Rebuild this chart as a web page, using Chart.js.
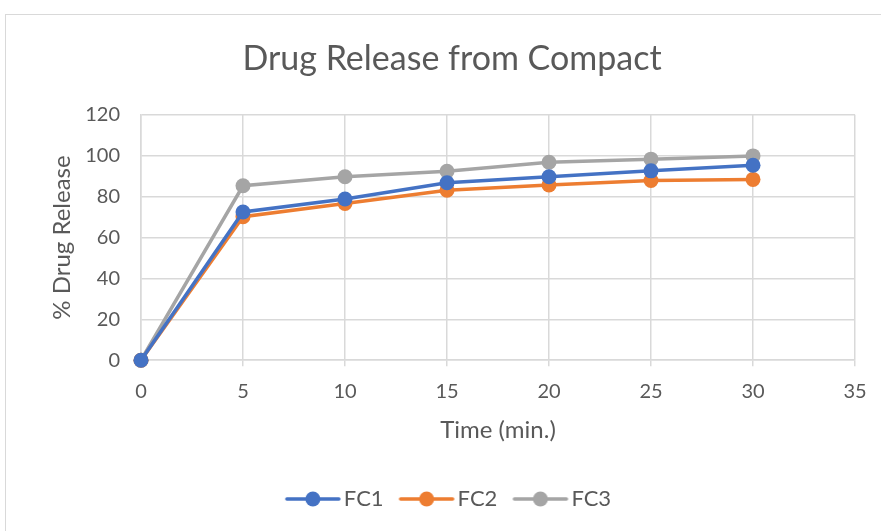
<!DOCTYPE html>
<html>
<head>
<meta charset="utf-8">
<script src="https://cdn.jsdelivr.net/npm/chart.js@4.4.1/dist/chart.umd.min.js"></script>
<style>
  html, body { margin: 0; padding: 0; background: #fff; }
  #wrap { position: relative; width: 881px; height: 531px; overflow: hidden; }
  #frame { position: absolute; left: 5px; top: 14px; width: 900px; height: 560px; border: 1px solid #d9d9d9; box-sizing: border-box; }
  #c { position: absolute; left: 0; top: 0; }
</style>
</head>
<body>
<div id="wrap">
  <div id="frame"></div>
  <canvas id="c" width="881" height="531"></canvas>
</div>
<script>
// Cumulative drug release (%) sampled every 5 minutes
const timeMin = [0, 5, 10, 15, 20, 25, 30];
const fc1 = [0, 72.5, 78.8, 86.8, 89.7, 92.6, 95.3];
const fc2 = [0, 70.2, 76.6, 83.1, 85.7, 87.9, 88.4];
const fc3 = [0, 85.3, 89.7, 92.4, 96.8, 98.3, 99.9];
const seriesNames = ['FC1', 'FC2', 'FC3'];
const seriesColors = ['#4472C4', '#ED7D31', '#A5A5A5'];

const FONT = 'Lato, "Liberation Sans", sans-serif';
const TEXT = '#595959';

// legend swatch: short line with a dot in the middle
function swatch(color) {
  const cv = document.createElement('canvas');
  cv.width = 60; cv.height = 18;
  const g = cv.getContext('2d');
  g.strokeStyle = color; g.lineWidth = 3.5; g.lineCap = 'round';
  g.beginPath(); g.moveTo(4, 9); g.lineTo(56, 9); g.stroke();
  g.fillStyle = color;
  g.beginPath(); g.arc(30, 9, 7.5, 0, Math.PI * 2); g.fill();
  return cv;
}

const datasets = [fc1, fc2, fc3].map((vals, i) => ({
  label: seriesNames[i],
  data: timeMin.map((t, k) => ({ x: t, y: vals[k] })),
  borderColor: seriesColors[i],
  backgroundColor: seriesColors[i],
  borderWidth: 3.5,
  pointRadius: 7.5,
  pointHoverRadius: 7.5,
  pointBorderWidth: 0,
  showLine: true,
  tension: 0,
  clip: false,
  pointStyle: 'circle'
}));

new Chart(document.getElementById('c'), {
  type: 'scatter',
  data: { datasets },
  options: {
    responsive: false,
    animation: false,
    layout: { padding: { left: 49, right: 26, top: 39, bottom: 11 } },
    plugins: {
      tooltip: { enabled: false },
      title: {
        display: true,
        text: 'Drug Release from Compact',
        color: TEXT,
        font: { family: FONT, size: 34, weight: 'normal' },
        padding: { top: 0, bottom: 35 }
      },
      legend: {
        position: 'bottom',
        labels: {
          color: TEXT,
          font: { family: FONT, size: 22 },
          usePointStyle: true,
          pointStyleWidth: 40,
          padding: 23,
          generateLabels(chart) {
            return chart.data.datasets.map((ds, i) => ({
              text: ds.label,
              pointStyle: swatch(ds.borderColor),
              fontColor: TEXT,
              strokeStyle: ds.borderColor,
              fillStyle: ds.borderColor,
              lineWidth: 0,
              datasetIndex: i,
              hidden: false
            }));
          }
        }
      }
    },
    scales: {
      x: {
        type: 'linear',
        min: 0, max: 35,
        ticks: { stepSize: 5, color: TEXT, font: { family: FONT, size: 20 }, padding: 13 },
        grid: { color: '#d9d9d9', lineWidth: 1.5, tickLength: 6, tickColor: '#d9d9d9' },
        border: { color: '#d9d9d9', width: 1.5 },
        title: { display: true, text: 'Time (min.)', color: TEXT, font: { family: FONT, size: 24 }, padding: { top: 0, bottom: 20 } }
      },
      y: {
        min: 0, max: 120,
        ticks: { stepSize: 20, color: TEXT, font: { family: FONT, size: 20 }, padding: 21 },
        grid: { color: '#d9d9d9', lineWidth: 1.5, drawTicks: false },
        border: { color: '#d9d9d9', width: 1.5 },
        title: { display: true, text: '% Drug Release', color: TEXT, font: { family: FONT, size: 24 }, padding: { top: -1, bottom: 10 } },
        afterFit(scale) { scale.width = 92; }
      }
    }
  }
});
</script>
</body>
</html>
